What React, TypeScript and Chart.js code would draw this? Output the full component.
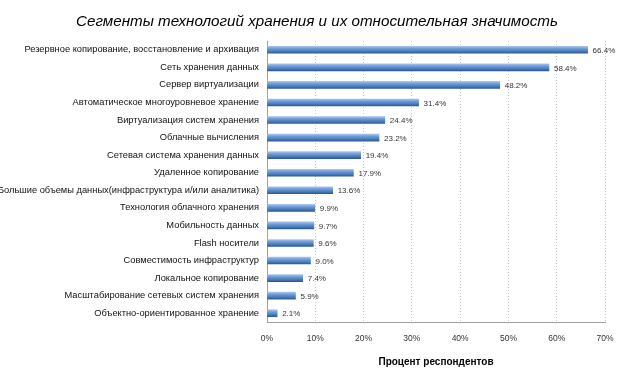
import React, { useEffect, useRef } from "react";
import { Chart, registerables } from "chart.js";

Chart.register(...registerables);

const titleText = "Сегменты технологий хранения и их относительная значимость";
const axisTitle = "Процент респондентов";
const categories = [
  "Резервное копирование, восстановление и архивация",
  "Сеть хранения данных",
  "Сервер виртуализации",
  "Автоматическое многоуровневое хранение",
  "Виртуализация систем хранения",
  "Облачные вычисления",
  "Сетевая система хранения данных",
  "Удаленное копирование",
  "Большие объемы данных(инфраструктура и/или аналитика)",
  "Технология облачного хранения",
  "Мобильность данных",
  "Flash носители",
  "Совместимость инфраструктур",
  "Локальное копирование",
  "Масштабирование сетевых систем хранения",
  "Объектно-ориентированное хранение",
];
const values = [66.4, 58.4, 48.2, 31.4, 24.4, 23.2, 19.4, 17.9, 13.6, 9.9, 9.7, 9.6, 9.0, 7.4, 5.9, 2.1];
const xMin = 0;
const xMax = 70;
const xStep = 10;

const narrow = "'Liberation Sans Narrow', 'Liberation Sans', Arial, sans-serif";
const sans = "'Liberation Sans', Arial, sans-serif";

const valueLabels = {
  id: "valueLabels",
  afterDatasetsDraw(chart: any) {
    const ctx = chart.ctx;
    const meta = chart.getDatasetMeta(0);
    ctx.save();
    ctx.font = `8px ${narrow}`;
    ctx.fillStyle = "#333";
    ctx.textAlign = "left";
    ctx.textBaseline = "middle";
    meta.data.forEach((el: any, i: number) => {
      const v = chart.data.datasets[0].data[i];
      ctx.fillText(v.toFixed(1) + "%", el.x + 5, el.y + 1);
    });
    ctx.restore();
  },
};

const centeredTitle = {
  id: "centeredTitle",
  afterDraw(chart: any) {
    const ctx = chart.ctx;
    ctx.save();
    ctx.font = `italic 15.2px ${sans}`;
    ctx.fillStyle = "#000";
    ctx.textAlign = "center";
    ctx.textBaseline = "middle";
    ctx.fillText(titleText, chart.width / 2 + 3, 22);
    ctx.restore();
  },
};

export default function App() {
  const ref = useRef<HTMLCanvasElement | null>(null);
  useEffect(() => {
    if (!ref.current) return;
    const chart = new Chart(ref.current, {
      type: "bar",
      data: {
        labels: categories,
        datasets: [
          {
            data: values,
            backgroundColor: (c: any) => {
              const ys = c.chart.scales && c.chart.scales.y;
              if (!ys || c.dataIndex == null) return "#4f81bd";
              const y = ys.getPixelForValue(c.dataIndex);
              if (!isFinite(y)) return "#4f81bd";
              const g = c.chart.ctx.createLinearGradient(0, y - 3.5, 0, y + 3.5);
              g.addColorStop(0, "#a7c3ea");
              g.addColorStop(0.35, "#6b9ad6");
              g.addColorStop(0.7, "#4a7cbc");
              g.addColorStop(1, "#2d5a92");
              return g;
            },
            borderColor: "#2f5b8f",
            borderWidth: 0,
            barThickness: 7,
          },
        ],
      },
      options: {
        indexAxis: "y",
        animation: false,
        responsive: false,
        maintainAspectRatio: false,
        layout: { padding: { left: 0, right: 23, top: 41, bottom: 0 } },
        plugins: {
          legend: { display: false },
          tooltip: { enabled: false },
          title: { display: false },
        },
        scales: {
          x: {
            min: xMin,
            max: xMax,
            ticks: {
              stepSize: xStep,
              callback: (v: any) => v + "%",
              color: "#333",
              font: { family: narrow, size: 8.5 },
              padding: 12,
            },
            grid: { color: "#c8c8c8", drawTicks: false, lineWidth: 1 },
            border: { display: true, color: "#a0a0a0", dash: [1, 2] },
            title: {
              display: true,
              text: axisTitle,
              color: "#000",
              font: { family: sans, size: 10, weight: "bold" },
              padding: { top: 4, bottom: 5 },
            },
            afterFit: (s: any) => {
              s.height = 51;
            },
          },
          y: {
            ticks: {
              color: "#111",
              font: { family: sans, size: 9.3 },
              padding: 8,
              autoSkip: false,
            },
            grid: { display: false, drawTicks: false },
            border: { display: true, color: "#a0a0a0" },
            afterFit: (s: any) => {
              s.width = 267;
            },
          },
        },
      },
      plugins: [valueLabels, centeredTitle],
    } as any);
    return () => chart.destroy();
  }, []);
  return (
    <div style={{ position: "fixed", left: 0, top: 0, width: 628, height: 373, background: "#fff" }}>
      <canvas ref={ref} width={628} height={373} style={{ width: 628, height: 373 }} />
    </div>
  );
}
